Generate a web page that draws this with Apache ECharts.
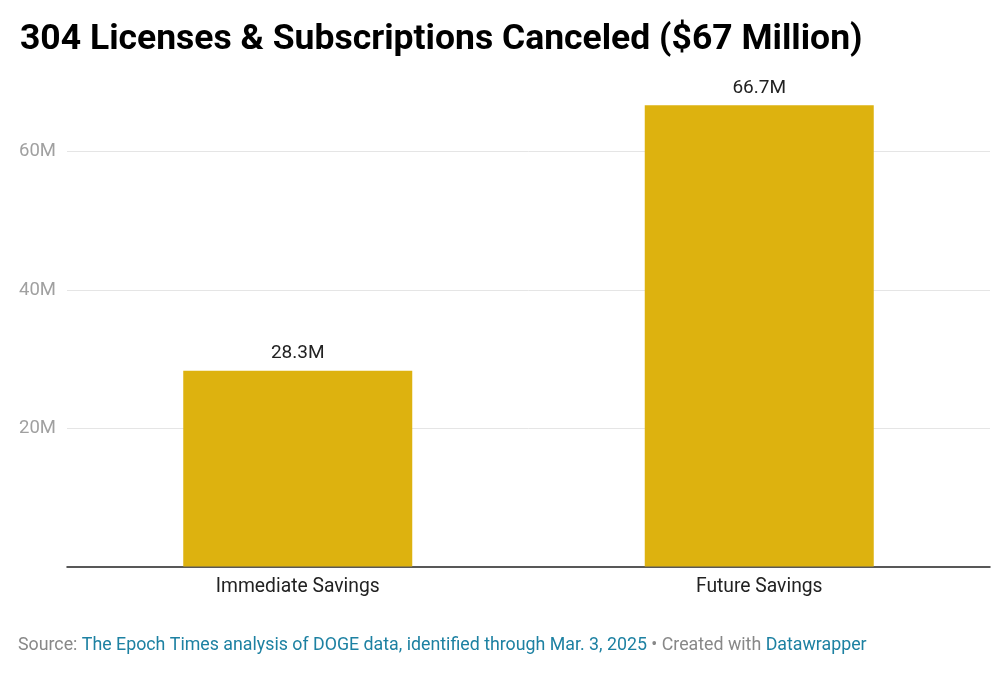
<!DOCTYPE html>
<html><head><meta charset="utf-8">
<script src="https://cdn.jsdelivr.net/npm/echarts@6/dist/echarts.min.js"></script>
<style>html,body{margin:0;padding:0;background:#fff;}#c{width:1000px;height:673px;}</style>
</head><body><div id="c"></div>
<script>
const categories = ['Immediate Savings', 'Future Savings'];
const values = [28300000, 66700000];
const valueLabels = ['28.3M', '66.7M'];
const yTicks = [0, 20000000, 40000000, 60000000];
const yTickLabels = ['', '20M', '40M', '60M'];

const chart = echarts.init(document.getElementById('c'), null, {renderer: 'canvas'});
const F = 'Roboto, "Noto Sans", sans-serif';
chart.setOption({
  animation: false,
  backgroundColor: '#fff',
  title: {
    text: '304 Licenses & Subscriptions Canceled ($67 Million)',
    left: 15, top: 17,
    textStyle: {fontFamily: F, fontWeight: 'bold', fontSize: 35.5, color: '#000'}
  },
  graphic: [{
    type: 'text', left: 18, top: 637,
    style: {
      text: '{g|Source: }{b|The Epoch Times analysis of DOGE data, identified through Mar. 3, 2025}{g| • Created with }{b|Datawrapper}',
      rich: {
        g: {fontFamily: F, fontSize: 17.8, fill: '#888888'},
        b: {fontFamily: F, fontSize: 17.8, fill: '#1d81a2'}
      }
    }
  }],
  grid: {left: 67, right: 10, top: 82.5, bottom: 673 - 566.5, containLabel: false},
  xAxis: {
    type: 'category', data: categories,
    axisLine: {show: true, lineStyle: {color: '#222', width: 1.5}},
    axisTick: {show: false},
    axisLabel: {fontFamily: F, fontSize: 19.3, color: '#222', margin: 11}
  },
  yAxis: {
    type: 'value', min: 0, max: 70000000, interval: 20000000,
    axisLine: {show: false}, axisTick: {show: false},
    axisLabel: {
      fontFamily: F, fontSize: 18.5, color: '#a0a0a0', margin: 11,
      formatter: v => { const i = yTicks.indexOf(v); return i >= 0 ? yTickLabels[i] : ''; }
    },
    splitLine: {show: true, lineStyle: {color: ['rgba(0,0,0,0)', '#e5e5e5', '#e5e5e5', '#e5e5e5', 'rgba(0,0,0,0)'], width: 1}}
  },
  series: [{
    type: 'bar', data: values, barWidth: 229,
    itemStyle: {color: '#ddb20f'},
    label: {
      show: true, position: 'top', distance: 8,
      fontFamily: F, fontSize: 19, color: '#222',
      formatter: p => valueLabels[p.dataIndex]
    }
  }]
});
</script></body></html>
